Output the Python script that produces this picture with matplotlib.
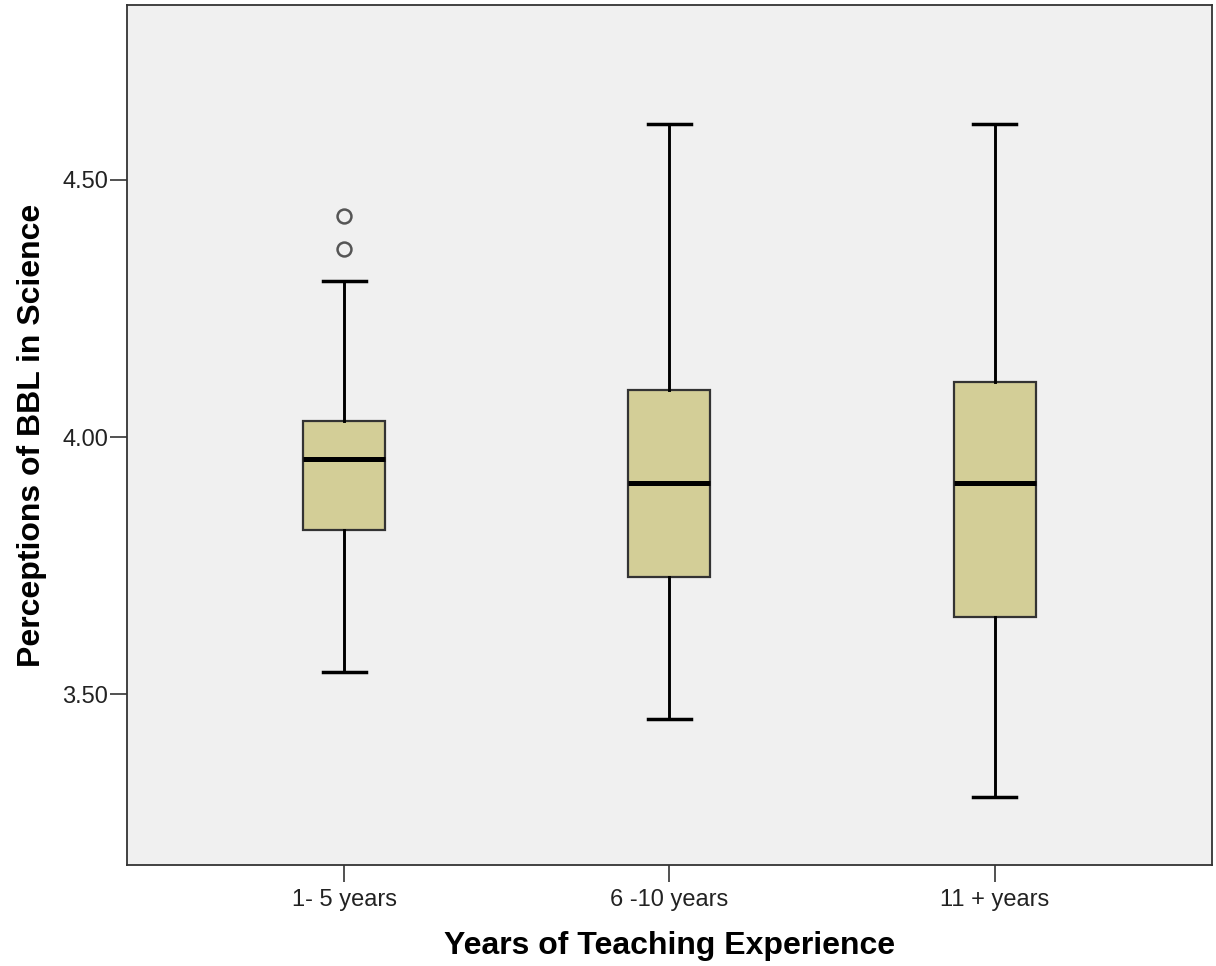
import numpy as np
import matplotlib
matplotlib.use('Agg')
import matplotlib.pyplot as plt

plt.rcParams['font.family'] = ['Liberation Sans', 'DejaVu Sans']

# --- values ---
groups   = ['1- 5 years', '6 -10 years', '11 + years']
whis_lo  = [3.544, 3.452, 3.300]
q1       = [3.819, 3.727, 3.651]
medians  = [3.957, 3.910, 3.910]
q3       = [4.031, 4.092, 4.107]
whis_hi  = [4.304, 4.608, 4.608]
outliers = [[4.366, 4.429], [], []]

stats = []
for i, g in enumerate(groups):
    stats.append(dict(label=g, whislo=whis_lo[i], q1=q1[i], med=medians[i],
                      q3=q3[i], whishi=whis_hi[i], fliers=outliers[i]))

fig = plt.figure(figsize=(12.16, 9.66), dpi=100)
ax = fig.add_axes([0.1044, 0.1046, 0.8923, 0.8902])
ax.set_facecolor('#F0F0F0')

ax.bxp(stats, positions=[1, 2, 3], widths=0.252, capwidths=0.132,
       patch_artist=True,
       boxprops=dict(facecolor='#D3CE97', edgecolor='#333333', linewidth=1.6),
       medianprops=dict(color='black', linewidth=3.6),
       whiskerprops=dict(color='black', linewidth=2.1),
       capprops=dict(color='black', linewidth=2.5),
       flierprops=dict(marker='o', markerfacecolor='none',
                       markeredgecolor='#555555', markeredgewidth=1.8,
                       markersize=10))

ax.set_xlim(0.333, 3.667)
ax.set_ylim(3.168, 4.840)
ax.set_yticks([3.5, 4.0, 4.5])
ax.set_yticklabels(['3.50', '4.00', '4.50'])
ax.set_xticks([1, 2, 3])
ax.set_xticklabels(groups)
ax.tick_params(axis='both', length=12.5, width=1.2, color='#333333',
               labelsize=17, labelcolor='#222222')
ax.tick_params(axis='x', pad=5)
ax.tick_params(axis='y', pad=1)

for s in ax.spines.values():
    s.set_color('#333333')
    s.set_linewidth(1.3)

ax.set_xlabel('Years of Teaching Experience', fontsize=23, fontweight='bold',
              labelpad=14)
ax.set_ylabel('Perceptions of BBL in Science', fontsize=23, fontweight='bold',
              labelpad=11)

fig.savefig('out.png', dpi=100)
